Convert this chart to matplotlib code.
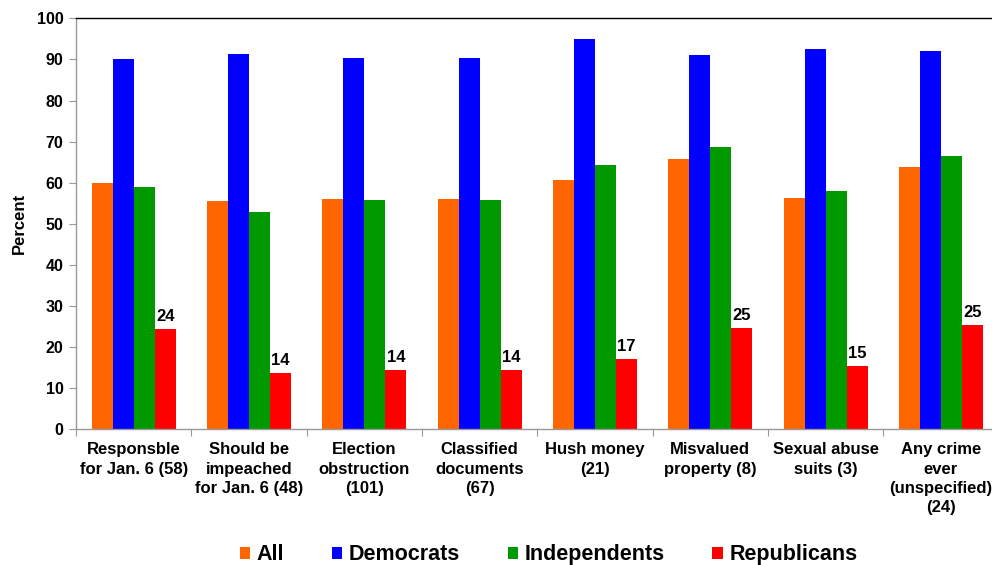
import matplotlib
matplotlib.use("Agg")
import matplotlib.pyplot as plt
import numpy as np
from matplotlib.patches import Patch

categories = [
    "Responsble\nfor Jan. 6 (58)",
    "Should be\nimpeached\nfor Jan. 6 (48)",
    "Election\nobstruction\n(101)",
    "Classified\ndocuments\n(67)",
    "Hush money\n(21)",
    "Misvalued\nproperty (8)",
    "Sexual abuse\nsuits (3)",
    "Any crime\never\n(unspecified)\n(24)",
]
all_pct = [60.0, 55.6, 56.0, 56.0, 60.6, 65.7, 56.2, 63.8]
dem_pct = [90.0, 91.2, 90.3, 90.3, 95.0, 91.1, 92.5, 92.0]
ind_pct = [58.9, 52.9, 55.9, 55.9, 64.4, 68.7, 57.9, 66.5]
rep_pct = [24.3, 13.6, 14.4, 14.4, 17.1, 24.7, 15.3, 25.4]
series_names = ["All", "Democrats", "Independents", "Republicans"]
series_colors = ["#FF6600", "#0000FF", "#009900", "#FF0000"]
y_ticks = list(range(0, 101, 10))

plt.rcParams["font.family"] = ["Liberation Sans", "DejaVu Sans"]
plt.rcParams["font.weight"] = "bold"

fig = plt.figure(figsize=(9.92, 5.65), dpi=100)
ax = fig.add_axes([0.0766, 0.2402, 0.93, 0.7274])

x = np.arange(len(categories))
w = 0.182
series = [all_pct, dem_pct, ind_pct, rep_pct]
for i, (vals, col) in enumerate(zip(series, series_colors)):
    offs = (i - 1.5) * w
    ax.bar(x + offs, vals, width=w, color=col, edgecolor="none", zorder=2)

# value labels above the Republican bars
for xi, v in zip(x, rep_pct):
    ax.text(xi + 1.5 * w, v + 1.2, f"{v:.0f}", ha="center", va="bottom",
            fontsize=12, fontweight="bold", color="black")

ax.set_xlim(-0.5, len(categories) - 0.5)
ax.set_ylim(0, 100)
ax.set_yticks(y_ticks)
ax.set_yticklabels([str(t) for t in y_ticks], fontsize=11.5, fontweight="bold")

# category boundaries carry the ticks; labels sit at the centres
ax.set_xticks(np.arange(-0.5, len(categories) + 0.5, 1.0))
ax.set_xticklabels([])
ax.set_xticks(x, minor=True)
ax.set_xticklabels(categories, minor=True, fontsize=12, fontweight="bold",
                   linespacing=1.36, va="top")
ax.tick_params(axis="x", which="minor", length=0, pad=9.5)
ax.tick_params(axis="x", which="major", length=5, color="#999999", direction="out")
ax.tick_params(axis="y", length=5, color="#999999", direction="out", pad=4)

for side in ["left", "bottom"]:
    ax.spines[side].set_color("#999999")
    ax.spines[side].set_linewidth(1.0)
ax.spines["top"].set_color("black")
ax.spines["top"].set_linewidth(1.0)
ax.spines["right"].set_visible(False)

ax.set_ylabel("Percent", fontsize=12, fontweight="bold", labelpad=7)

handles = [Patch(facecolor=c, edgecolor="none") for c in series_colors]
fig.legend(handles, series_names, loc="center", bbox_to_anchor=(0.553, 0.018),
           ncol=4, frameon=False, prop={"size": 15.5, "weight": "bold"},
           handlelength=0.5, handleheight=0.5, handletextpad=0.3,
           columnspacing=2.2)

fig.savefig("out.png", dpi=100)
